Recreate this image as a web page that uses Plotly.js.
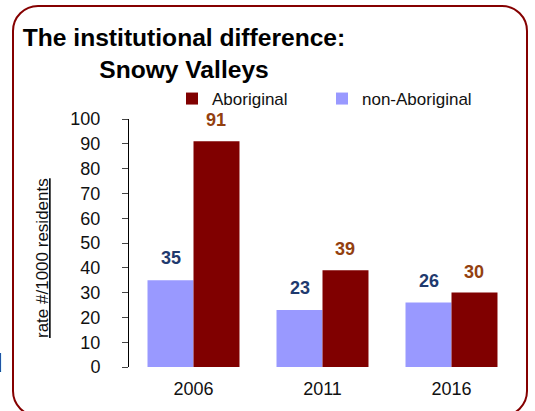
<!DOCTYPE html>
<html>
<head>
<meta charset="utf-8">
<script src="https://cdn.plot.ly/plotly-3.0.1.min.js"></script>
<style>
  html, body { margin: 0; padding: 0; background: #fff; }
  #wrap { position: relative; width: 535px; height: 411px; overflow: hidden; }
  #chart { width: 535px; height: 411px; }
  #frame { position: absolute; left: 12px; top: 5px; width: 512px; height: 408px;
           border: 2.5px solid #850000; border-radius: 26px; pointer-events: none; }
</style>
</head>
<body>
<div id="wrap">
  <div id="chart"></div>
  <div id="frame"></div>
</div>
<script>
const years = ['2006', '2011', '2016'];
const aboriginal = [91, 39, 30];
const nonAboriginal = [35, 23, 26];
const seriesNames = ['non-Aboriginal', 'Aboriginal'];
const yTicks = [0, 10, 20, 30, 40, 50, 60, 70, 80, 90, 100];

const FONT = 'Liberation Sans, Arial, sans-serif';
const colNon = '#9999FF';
const colAbo = '#800000';
const lblNon = '#1F3A6E';
const lblAbo = '#93400F';

const L = 129, R = 19, T = 119, B = 44;
const W = 535, H = 411;
const bargap = 0.287;
const plotW = W - L - R;
const plotH = H - T - B;
const barW = plotW / years.length * (1 - bargap) / 2;

const traces = [
  { type: 'bar', name: seriesNames[0], x: years, y: nonAboriginal,
    marker: { color: colNon }, hoverinfo: 'x+y' },
  { type: 'bar', name: seriesNames[1], x: years, y: aboriginal,
    marker: { color: colAbo }, hoverinfo: 'x+y' }
];

const annotations = [];
years.forEach((yr, i) => {
  // category axis: position annotations by category index
  annotations.push({ x: i, y: nonAboriginal[i], xref: 'x', yref: 'y',
    text: '<b>' + nonAboriginal[i] + '</b>', showarrow: false,
    xshift: -barW / 2, yshift: 22, xanchor: 'center', yanchor: 'middle',
    font: { family: FONT, size: 18, color: lblNon } });
  annotations.push({ x: i, y: aboriginal[i], xref: 'x', yref: 'y',
    text: '<b>' + aboriginal[i] + '</b>', showarrow: false,
    xshift: barW / 2, yshift: 21, xanchor: 'center', yanchor: 'middle',
    font: { family: FONT, size: 18, color: lblAbo } });
});
// y-axis title (underlined, as in the original)
annotations.push({ xref: 'paper', yref: 'paper', x: (42 - L) / plotW, y: (H - B - 258) / plotH,
  text: '<span style="text-decoration:underline">rate #/1000 residents</span>',
  textangle: -90, showarrow: false, xanchor: 'center', yanchor: 'middle',
  font: { family: FONT, size: 17, color: '#111' } });
// clipped text fragment at the left edge
annotations.push({ xref: 'paper', yref: 'paper', x: (4 - L) / plotW, y: (H - B - 363) / plotH,
  text: 'd', showarrow: false, xanchor: 'right', yanchor: 'middle',
  font: { family: FONT, size: 26, color: '#111' } });

const layout = {
  width: W, height: H,
  margin: { l: L, r: R, t: T, b: B, pad: 0 },
  paper_bgcolor: '#fff', plot_bgcolor: '#fff',
  font: { family: FONT, size: 18, color: '#111' },
  title: { text: '<b>The institutional difference:</b><br><b>Snowy Valleys</b>',
    xref: 'container', yref: 'container', x: 184 / W, xanchor: 'center',
    y: 1 - 46 / H, yanchor: 'top',
    font: { family: FONT, size: 24.6, color: '#000' } },
  barmode: 'group', bargap: bargap, bargroupgap: 0,
  showlegend: true,
  legend: { orientation: 'h', traceorder: 'reversed',
    x: (172 - L) / plotW, xanchor: 'left', y: (H - B - 99) / plotH, yanchor: 'middle',
    entrywidth: 105, entrywidthmode: 'pixels',
    font: { family: FONT, size: 17, color: '#111' }, bgcolor: 'rgba(0,0,0,0)' },
  xaxis: { type: 'category', categoryarray: years, range: [-0.5, 2.5],
    showline: false, ticks: '', showgrid: false, zeroline: false,
    ticklabelstandoff: 9,
    tickfont: { family: FONT, size: 18, color: '#111' } },
  yaxis: { range: [0, 100], tickvals: yTicks, showgrid: false, zeroline: false,
    showline: true, linecolor: '#000', linewidth: 1,
    ticks: 'outside', ticklen: 6, tickcolor: '#444', tickwidth: 1,
    ticklabelstandoff: 18,
    tickfont: { family: FONT, size: 18, color: '#111' } },
  annotations: annotations
};

Plotly.newPlot('chart', traces, layout, { displayModeBar: false, staticPlot: true });
</script>
</body>
</html>
